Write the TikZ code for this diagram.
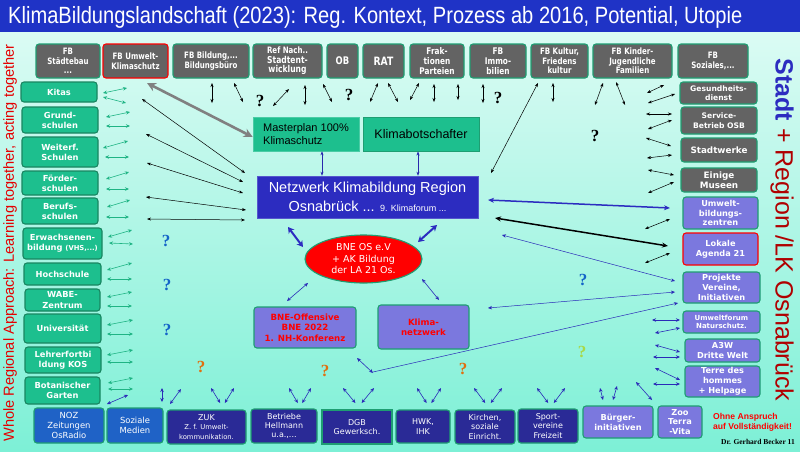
\documentclass[tikz,border=0pt]{standalone}
\usepackage{fontspec}
\usepackage{graphicx}
\setmainfont{Liberation Sans}
\newfontfamily\verd{DejaVu Sans}
\newfontfamily\cond[FakeStretch=0.8]{DejaVu Sans}
\newfontfamily\serifb{Liberation Serif}
\usetikzlibrary{arrows.meta,shapes.geometric}
\definecolor{titleblue}{HTML}{1F33C6}
\definecolor{bgtop}{HTML}{E2FCF6}
\definecolor{bgbot}{HTML}{7DF0D6}
\definecolor{boxgray}{HTML}{636363}
\definecolor{bgreen}{HTML}{1E9E72}
\definecolor{fgreen}{HTML}{1DBF8E}
\definecolor{lav}{HTML}{7B78DE}
\definecolor{navy}{HTML}{2A2A96}
\definecolor{medblue}{HTML}{1F62C6}
\definecolor{netblue}{HTML}{2C2CC0}
\definecolor{arrgreen}{HTML}{1FB484}
\definecolor{arrblue}{HTML}{2A2AB8}
\definecolor{darkred}{HTML}{B00000}
\definecolor{qblue}{HTML}{1464C8}
\definecolor{qorange}{HTML}{E07010}
\definecolor{qyellow}{HTML}{A8D848}
\newcommand\mybox[7]{%
 \pgfmathsetmacro\bxw{#5-#3}\pgfmathsetmacro\bxh{#6-#4}%
 \pgfmathsetmacro\bxx{(#3+#5)/2}\pgfmathsetmacro\bxy{(#4+#6)/2}%
 \node[#1, minimum width=\bxw pt, minimum height=\bxh pt] (#2) at (\bxx,\bxy) {#7};}
\tikzset{
 basebox/.style={rounded corners=3pt, line width=1.1pt, align=center, inner sep=1pt, text=white},
 graybox/.style={basebox, draw=bgreen, fill=boxgray, font=\cond\bfseries\fontsize{8.8}{9.6}\selectfont},
 grbox/.style={basebox, draw=bgreen!85!black, fill=fgreen, font=\verd\bfseries\fontsize{8.3}{10.2}\selectfont},
 rgray/.style={basebox, draw=bgreen, fill=boxgray, font=\verd\bfseries\fontsize{7.6}{9.4}\selectfont},
 lavbox/.style={basebox, draw=bgreen, fill=lav, font=\verd\bfseries\fontsize{8.2}{9.8}\selectfont},
 navbox/.style={basebox, draw=bgreen, fill=navy, font=\verd\fontsize{8}{9.4}\selectfont},
 medbox/.style={basebox, draw=bgreen, fill=medblue, font=\verd\fontsize{8.4}{10}\selectfont},
 ga/.style={<->, draw=arrgreen, line width=0.6pt, >={Stealth[length=4pt,width=3.5pt]}},
 ka/.style={<->, draw=black, line width=0.5pt, >={Stealth[length=4pt,width=3pt]}},
 ba/.style={<->, draw=arrblue, line width=0.6pt, >={Stealth[length=4pt,width=3.5pt]}},
 qm/.style={font=\serifb\bfseries\fontsize{17}{17}\selectfont, inner sep=0},
}
\begin{document}
\begin{tikzpicture}[x=1pt,y=-1pt]
\useasboundingbox (0,0) rectangle (800,451);
\shade[top color=bgtop, bottom color=bgbot] (0,0) rectangle (800,451);
\fill[titleblue] (0,0) rectangle (800,32);
\node[anchor=west, text=white, inner sep=0, font=\fontsize{23.5}{26}\selectfont] (title) at (8,17)
 {\scalebox{0.855}[1]{KlimaBildungslandschaft (2023): Reg. Kontext, Prozess ab 2016, Potential, Utopie}};
% side texts
\node[rotate=90, text=red!90!black, inner sep=0, font=\fontsize{14.6}{16}\selectfont] (lside) at (10,243)
 {Whole Regional Approach: Learning together, acting together};
\node[rotate=-90, inner sep=0, font=\fontsize{25}{28}\selectfont] (rside) at (782,230)
 {\textcolor{netblue}{\bfseries Stadt} \textcolor{darkred}{+ Region /LK Osnabrück}};
% top row
\mybox{graybox}{t1}{36}{44}{100}{78}{FB\\Städtebau\\...}
\mybox{graybox, draw=red}{t2}{103}{44}{168}{78}{FB Umwelt-\\Klimaschutz}
\mybox{graybox}{t3}{173}{44}{249}{78}{FB Bildung,...\\Bildungsbüro}
\mybox{graybox}{t4}{253}{44}{322}{78}{Ref Nach..\\{\fontsize{9.5}{10.2}\selectfont Stadtent-}\\{\fontsize{9.5}{10.2}\selectfont wicklung}}
\mybox{graybox, font=\cond\bfseries\fontsize{10.5}{10.5}\selectfont}{t5}{327}{44}{358}{78}{OB}
\mybox{graybox, font=\cond\bfseries\fontsize{11.5}{11.5}\selectfont}{t6}{363}{44}{404}{78}{RAT}
\mybox{graybox, font=\cond\bfseries\fontsize{9.2}{10}\selectfont}{t7}{410}{44}{464}{78}{Frak-\\tionen\\Parteien}
\mybox{graybox, font=\cond\bfseries\fontsize{9.2}{10}\selectfont}{t8}{470}{44}{526}{78}{FB\\Immo-\\bilien}
\mybox{graybox}{t9}{531}{44}{588}{78}{FB Kultur,\\Friedens\\kultur}
\mybox{graybox}{t10}{593}{44}{672}{78}{FB Kinder-\\Jugendliche\\Familien}
\mybox{graybox}{t11}{678}{44}{748}{78}{FB\\Soziales,...}
% left column
\mybox{grbox}{l1}{21}{82}{97}{102}{Kitas}
\mybox{grbox}{l2}{22}{107}{98}{133}{Grund-\\schulen}
\mybox{grbox}{l3}{22}{137}{98}{167}{Weiterf.\\Schulen}
\mybox{grbox}{l4}{22}{171}{98}{195}{Förder-\\schulen}
\mybox{grbox}{l5}{22}{198}{98}{224}{Berufs-\\schulen}
\mybox{grbox}{l6}{23}{228}{102}{259}{Erwachsenen-\\bildung {\fontsize{6.8}{8}\selectfont(VHS,...)}}
\mybox{grbox}{l7}{24}{263}{101}{285}{Hochschule}
\mybox{grbox}{l8}{25}{289}{100}{311}{WABE-\\Zentrum}
\mybox{grbox}{l9}{24}{314}{101}{343}{Universität}
\mybox{grbox}{l10}{25}{347}{101}{373}{Lehrerfortbi\\ldung KOS}
\mybox{grbox}{l11}{25}{377}{100}{404}{Botanischer\\Garten}
% right column
\mybox{rgray}{r1}{680}{82}{757}{104}{Gesundheits-\\dienst}
\mybox{rgray}{r2}{681}{107}{757}{134}{Service-\\Betrieb OSB}
\mybox{rgray, font=\verd\bfseries\fontsize{8.8}{10}\selectfont}{r3}{681}{138}{757}{162}{Stadtwerke}
\mybox{rgray, font=\verd\bfseries\fontsize{8.8}{10.4}\selectfont}{r4}{681}{168}{757}{192}{Einige\\Museen}
\mybox{lavbox}{r5}{683}{197}{758}{229}{Umwelt-\\bildungs-\\zentren}
\mybox{lavbox, draw=red}{r6}{683}{233}{758}{265}{Lokale\\Agenda 21}
\mybox{lavbox}{r7}{683}{272}{760}{303}{Projekte\\Vereine,\\Initiativen}
\mybox{lavbox, font=\verd\bfseries\fontsize{7}{8.6}\selectfont}{r8}{683}{311}{760}{333}{Umweltforum\\Naturschutz.}
\mybox{lavbox}{r9}{685}{339}{760}{362}{A3W\\Dritte Welt}
\mybox{lavbox}{r10}{685}{366}{760}{397}{Terre des\\hommes\\+ Helpage}
% bottom row
\mybox{medbox}{b1}{34}{408}{104}{443}{NOZ\\Zeitungen\\OsRadio}
\mybox{medbox}{b2}{107}{408}{163}{443}{Soziale\\Medien}
\mybox{navbox}{b3}{167}{410}{246}{444}{ZUK\\{\fontsize{6.8}{8}\selectfont Z. f. Umwelt-}\\{\fontsize{6.8}{8}\selectfont kommunikation.}}
\mybox{navbox}{b4}{251}{409}{317}{443}{Betriebe\\Hellmann\\u.a.,...}
\mybox{navbox, rounded corners=0pt}{b5}{322}{410}{392}{444}{DGB\\Gewerksch.}
\mybox{navbox}{b6}{396}{410}{450}{443}{HWK,\\IHK}
\mybox{navbox}{b7}{455}{410}{515}{444}{Kirchen,\\soziale\\Einricht.}
\mybox{navbox}{b8}{518}{409}{578}{443}{Sport-\\vereine\\Freizeit}
\mybox{lavbox}{b9}{583}{406}{653}{438}{Bürger-\\initiativen}
\mybox{lavbox}{b10}{658}{406}{702}{438}{Zoo\\Terra\\-Vita}
% center
\mybox{basebox, fill=fgreen, draw=fgreen!80!white, line width=0.6pt, rounded corners=0pt, text=black, align=left, font=\fontsize{11}{13}\selectfont}{mp}{253}{117}{359}{151}{Masterplan 100\%\\Klimaschutz}
\mybox{basebox, fill=fgreen, draw=bgreen, line width=1pt, rounded corners=0pt, text=black, font=\fontsize{12.5}{14}\selectfont}{kb}{363}{117}{479}{151}{Klimabotschafter}
\mybox{basebox, fill=netblue, draw=netblue!80!white, line width=0.6pt, rounded corners=0pt, font=\fontsize{14.5}{19}\selectfont}{net}{257}{176}{478}{218}{Netzwerk Klimabildung Region\\Osnabrück ... {\fontsize{9}{10}\selectfont 9. Klimaforum ...}}
\node[ellipse, fill=red, draw=bgreen, line width=1.1pt, minimum width=117pt, minimum height=48pt, inner sep=0, text=white, align=center, font=\verd\fontsize{9.5}{11.5}\selectfont] (bne) at (363.5,259) {BNE OS e.V\\+ AK Bildung\\der LA 21 Os.};
\mybox{lavbox, text=red, font=\verd\bfseries\fontsize{8.6}{10.4}\selectfont}{off}{254}{307}{356}{348}{BNE-Offensive\\BNE 2022\\1. NH-Konferenz}
\mybox{lavbox, text=red, font=\verd\bfseries\fontsize{8.6}{10.4}\selectfont}{kn}{378}{305}{469}{349}{Klima-\\netzwerk}
% notes
\node[anchor=west, align=left, text=red, inner sep=0, font=\bfseries\fontsize{8.6}{10.4}\selectfont] (note) at (713,422) {Ohne Anspruch\\auf Vollständigkeit!};
\node[anchor=east, inner sep=0, font=\serifb\bfseries\fontsize{7.5}{9}\selectfont] (auth) at (795,442) {Dr. Gerhard Becker 11};
% question marks
\node[qm] (q1) at (260,101) {?};
\node[qm] (q2) at (349,95) {?};
\node[qm] (q3) at (498,98) {?};
\node[qm] (q4) at (595,136) {?};
\node[qm, text=qblue] (q5) at (166,241) {?};
\node[qm, text=qblue] (q6) at (167,285) {?};
\node[qm, text=qblue] (q7) at (167,330) {?};
\node[qm, text=qblue] (q8) at (583,280) {?};
\node[qm, text=qorange] (q9) at (201,367) {?};
\node[qm, text=qorange] (q10) at (325,371) {?};
\node[qm, text=qorange] (q11) at (463,369) {?};
\node[qm, text=qyellow] (q12) at (582,352) {?};
% left green arrows
\foreach \a/\b/\c/\d/\e/\f/\g/\h in {
103/93/127/88/103/97/126/103,
106/117/130/112/106/126/130/126,
103/148/128/141/105/157/129/157,
106/179/129/172/106/189/129/189,
107/207/130/200/106/217/129/217,
108/237/132/230/109/243/133/244,
107/270/132/263/107/279/132/279,
107/297/132/292/107/306/132/306,
107/325/133/320/107/334/133/334,
107/355/133/350/107/362/133/362,
108/383/133/378/108/389/133/389}
{\draw[ga] (\a,\b) -- (\c,\d); \draw[ga] (\e,\f) -- (\g,\h);}
% big gray arrow and black lines from left to network
\draw[<->, draw=gray, line width=2.6pt, >={Stealth[length=9pt,width=9pt]}] (147,83) -- (mp.west |- 0,137);
\draw[ka] (142,99) -- (245,173);
\draw[ka] (146,134) -- (243,182);
\draw[ka] (147,163) -- (243,193);
\draw[ka] (146,197) -- (246,210);
\draw[ka] (147,219) -- (245,220);
% top black arrows
\draw[ka] (212,83) -- (212,103);
\draw[ka] (234,83) -- (243,102);
\draw[ka] (289,89) -- (273,106);
\draw[ka] (305,85) -- (305,105);
\draw[ka] (323,84) -- (332,102);
\draw[ka] (378,83) -- (370,102);
\draw[ka] (388,83) -- (398,102);
\draw[ka] (419,83) -- (410,100);
\draw[ka] (434,84) -- (434,102);
\draw[ka] (458,84) -- (458,100);
\draw[ka] (483,84) -- (483,103);
\draw[ka] (538,83) -- (491,173);
\draw[ka] (553,83) -- (553,102);
\draw[ka] (603,83) -- (595,105);
\draw[ka] (616,82) -- (625,105);
% right black arrows
\draw[ka] (647,93) -- (664,85);
\draw[ka] (648,103) -- (675,94);
\draw[ka] (646,114) -- (672,114);
\draw[ka] (648,129) -- (672,120);
\draw[ka] (646,138) -- (671,146);
\draw[ka] (647,158) -- (672,155);
\draw[ka] (648,170) -- (674,175);
\draw[ka] (648,193) -- (674,182);
\draw[ka] (645,229) -- (670,219);
\draw[ka] (645,263) -- (670,253);
% right blue arrows
\draw[ba] (652,320) -- (680,320);
\draw[ba] (655,333) -- (680,328);
\draw[ba] (655,345) -- (680,352);
\draw[ba] (653,357) -- (680,357);
\draw[ba] (655,368) -- (680,380);
\draw[ba] (653,384) -- (680,384);
% network links
\draw[<->, draw=netblue!90!black, line width=0.4pt, >={Stealth[length=4pt,width=3pt]}] (mp.south -| 322,0) -- (net.north -| 322,0);
\draw[<->, draw=netblue!90!black, line width=0.4pt, >={Stealth[length=4pt,width=3pt]}] (kb.south -| 418,0) -- (net.north -| 418,0);
\draw[<->, draw=netblue, line width=1.5pt, >={Stealth[length=6pt,width=5pt]}] (488,200) -- (670,208);
\draw[<->, draw=black, line width=1.5pt, >={Stealth[length=6pt,width=5pt]}] (495,218) -- (668,246);
\draw[ba, line width=0.5pt] (502,235) -- (675,281);
\draw[ba, line width=0.5pt] (488,308) -- (675,292);
\draw[->, draw=arrblue, line width=0.5pt, >={Stealth[length=4pt,width=3.5pt]}] (373,372) -- (678,303);
\draw[ba] (357,358) -- (373,373);
\draw[<->, draw=netblue, line width=2pt, >={Stealth[length=6pt,width=7pt]}] (288,227) -- (303,247);
\draw[<->, draw=netblue, line width=2pt, >={Stealth[length=6pt,width=7pt]}] (437,225) -- (418,242);
\draw[ba] (308,283) -- (287,301);
\draw[ba] (422,279) -- (439,300);
% bottom arrows
\draw[ba] (107,404) -- (128,395);
\draw[ba] (162,388) -- (162,402);
\draw[ba] (170,404) -- (181,389);
\foreach \x/\w in {211/23, 289/22, 343/31, 417/24, 474/28, 537/28}
{\draw[ba] (\x,388) -- ({\x+0.4*\w},403); \draw[ba] ({\x+\w},388) -- ({\x+0.6*\w},403);}
\draw[ba] (600,388) -- (603,400);
\draw[ba] (617,386) -- (613,400);
\draw[ba] (636,382) -- (652,400);
\end{tikzpicture}
\end{document}
